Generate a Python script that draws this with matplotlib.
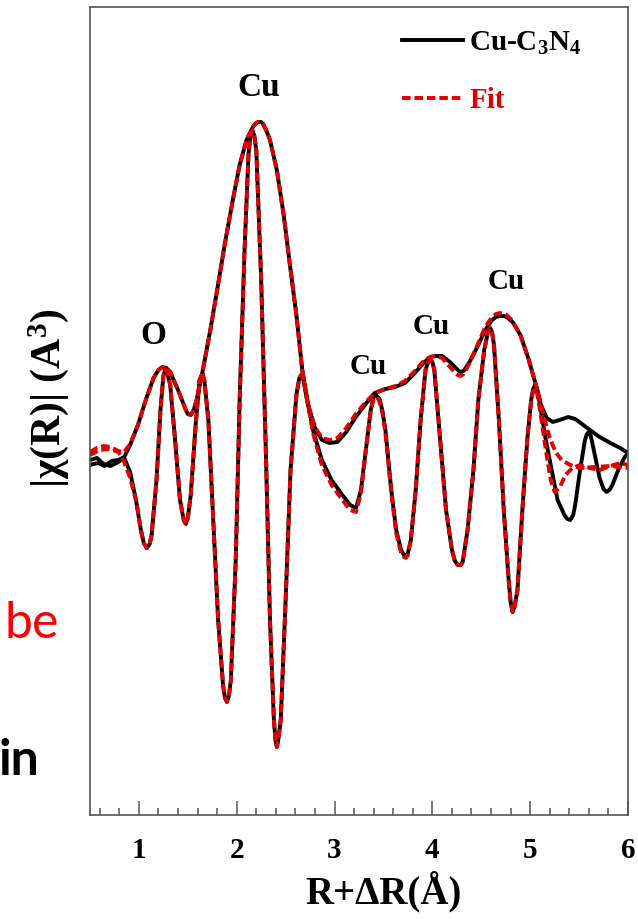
import matplotlib
matplotlib.use('Agg')
import matplotlib.pyplot as plt
from matplotlib.ticker import MultipleLocator

# (R, value) pairs, arbitrary units
mag_pts = [(0.50, -0.10), (0.58, -0.08), (0.65, -0.11), (0.72, -0.06), (0.79, -0.05), (0.85, -0.02),
           (0.91, 0.10), (0.99, 0.30), (1.07, 0.55), (1.15, 0.77), (1.20, 0.85), (1.24, 0.88),
           (1.28, 0.87), (1.32, 0.83), (1.40, 0.65), (1.48, 0.45), (1.50, 0.41), (1.53, 0.40),
           (1.56, 0.45), (1.59, 0.55), (1.65, 0.83), (1.73, 1.25), (1.80, 1.65), (1.88, 2.12),
           (1.96, 2.55), (2.03, 2.90), (2.10, 3.15), (2.17, 3.29), (2.20, 3.32), (2.22, 3.33),
           (2.25, 3.33), (2.27, 3.31), (2.30, 3.25), (2.34, 3.15), (2.41, 2.85), (2.48, 2.40),
           (2.54, 1.93), (2.61, 1.40), (2.67, 0.85), (2.73, 0.50), (2.80, 0.27), (2.87, 0.15),
           (2.95, 0.12), (3.03, 0.13), (3.12, 0.23), (3.21, 0.37), (3.31, 0.50), (3.41, 0.62),
           (3.52, 0.66), (3.62, 0.68), (3.72, 0.72), (3.82, 0.82), (3.92, 0.93), (3.98, 0.98),
           (4.03, 0.99), (4.10, 0.99), (4.18, 0.93), (4.26, 0.85), (4.29, 0.83), (4.32, 0.84),
           (4.38, 0.93), (4.47, 1.10), (4.54, 1.25), (4.61, 1.35), (4.65, 1.38), (4.69, 1.39),
           (4.73, 1.39), (4.76, 1.38), (4.82, 1.33), (4.90, 1.20), (4.98, 0.97), (5.05, 0.73),
           (5.11, 0.50), (5.17, 0.37), (5.23, 0.33), (5.30, 0.35), (5.39, 0.38), (5.46, 0.36),
           (5.53, 0.31), (5.61, 0.25), (5.71, 0.18), (5.82, 0.12), (5.92, 0.07), (6.00, 0.02)]

im_pts = [(0.50, -0.05), (0.57, -0.03), (0.64, -0.09), (0.71, -0.11), (0.79, -0.07), (0.85, -0.03),
          (0.91, -0.17), (0.97, -0.45), (1.02, -0.75), (1.05, -0.88), (1.08, -0.93), (1.11, -0.89),
          (1.13, -0.80), (1.18, -0.25), (1.22, 0.45), (1.25, 0.79), (1.27, 0.86), (1.29, 0.82),
          (1.32, 0.70), (1.37, 0.15), (1.42, -0.45), (1.46, -0.66), (1.48, -0.69), (1.50, -0.63),
          (1.53, -0.40), (1.58, 0.30), (1.62, 0.75), (1.65, 0.82), (1.67, 0.74), (1.71, 0.35),
          (1.76, -0.65), (1.81, -1.65), (1.86, -2.30), (1.88, -2.43), (1.90, -2.47), (1.92, -2.41),
          (1.94, -2.25), (1.99, -1.05), (2.03, 0.55), (2.08, 2.05), (2.12, 3.00), (2.14, 3.19),
          (2.16, 3.25), (2.18, 3.19), (2.20, 3.05), (2.25, 1.75), (2.30, -0.05), (2.34, -1.65),
          (2.38, -2.65), (2.395, -2.84), (2.41, -2.92), (2.425, -2.85), (2.45, -2.65), (2.50, -1.45),
          (2.55, -0.15), (2.61, 0.60), (2.64, 0.77), (2.66, 0.80), (2.68, 0.76), (2.71, 0.60),
          (2.78, 0.25), (2.87, -0.05), (2.97, -0.25), (3.08, -0.40), (3.16, -0.50), (3.22, -0.53),
          (3.27, -0.35), (3.32, 0.05), (3.37, 0.45), (3.40, 0.58), (3.42, 0.60), (3.46, 0.56),
          (3.49, 0.44), (3.52, 0.25), (3.58, -0.35), (3.63, -0.75), (3.68, -0.95), (3.71, -1.00),
          (3.73, -1.01), (3.75, -0.98), (3.78, -0.85), (3.83, -0.35), (3.88, 0.35), (3.93, 0.85),
          (3.96, 0.94), (3.98, 0.95), (4.00, 0.93), (4.02, 0.85), (4.08, 0.15), (4.14, -0.55),
          (4.20, -0.95), (4.23, -1.06), (4.26, -1.10), (4.29, -1.10), (4.31, -1.07), (4.36, -0.75),
          (4.42, -0.15), (4.47, 0.55), (4.53, 1.05), (4.57, 1.24), (4.59, 1.27), (4.61, 1.23),
          (4.63, 1.10), (4.68, 0.35), (4.73, -0.55), (4.78, -1.25), (4.80, -1.47), (4.82, -1.57),
          (4.84, -1.52), (4.87, -1.35), (4.92, -0.55), (4.97, 0.15), (5.01, 0.55), (5.03, 0.66),
          (5.05, 0.70), (5.07, 0.67), (5.10, 0.50), (5.16, 0.15), (5.22, -0.15), (5.28, -0.45),
          (5.35, -0.60), (5.38, -0.64), (5.41, -0.65), (5.44, -0.60), (5.46, -0.50), (5.51, -0.15),
          (5.56, 0.15), (5.58, 0.21), (5.60, 0.23), (5.62, 0.19), (5.65, 0.05), (5.71, -0.23),
          (5.75, -0.34), (5.78, -0.37), (5.81, -0.35), (5.84, -0.30), (5.90, -0.15), (5.96, -0.03),
          (6.00, 0.02)]

fit_mag_pts = [(0.50, 0.03), (0.57, 0.07), (0.64, 0.09), (0.71, 0.08), (0.79, 0.04), (0.85, 0.03),
               (0.91, 0.11), (0.99, 0.30), (1.07, 0.55), (1.15, 0.77), (1.20, 0.85), (1.24, 0.88),
               (1.28, 0.87), (1.32, 0.83), (1.40, 0.65), (1.48, 0.45), (1.50, 0.41), (1.53, 0.40),
               (1.56, 0.45), (1.59, 0.55), (1.65, 0.83), (1.73, 1.25), (1.80, 1.65), (1.88, 2.12),
               (1.96, 2.55), (2.03, 2.90), (2.10, 3.15), (2.17, 3.29), (2.20, 3.32), (2.22, 3.33),
               (2.25, 3.33), (2.27, 3.31), (2.30, 3.25), (2.34, 3.15), (2.41, 2.85), (2.48, 2.40),
               (2.54, 1.93), (2.61, 1.40), (2.67, 0.85), (2.73, 0.50), (2.80, 0.28), (2.87, 0.17),
               (2.95, 0.15), (3.03, 0.17), (3.12, 0.27), (3.21, 0.40), (3.31, 0.52), (3.41, 0.62),
               (3.52, 0.66), (3.62, 0.69), (3.72, 0.74), (3.82, 0.84), (3.92, 0.95), (3.98, 0.98),
               (4.03, 0.99), (4.10, 0.97), (4.18, 0.88), (4.26, 0.80), (4.29, 0.79), (4.32, 0.81),
               (4.38, 0.92), (4.47, 1.12), (4.54, 1.28), (4.61, 1.38), (4.65, 1.41), (4.69, 1.42),
               (4.73, 1.41), (4.76, 1.40), (4.82, 1.34), (4.90, 1.20), (4.98, 0.97), (5.05, 0.73),
               (5.10, 0.55), (5.15, 0.35), (5.20, 0.17), (5.26, 0.03), (5.32, -0.05), (5.41, -0.10),
               (5.51, -0.13), (5.66, -0.12), (5.82, -0.11), (6.00, -0.13)]

fit_im_pts = [(0.50, 0.00), (0.60, 0.05), (0.70, 0.06), (0.79, 0.03), (0.85, -0.07), (0.91, -0.23),
              (0.97, -0.45), (1.02, -0.75), (1.05, -0.88), (1.08, -0.93), (1.11, -0.89),
              (1.13, -0.80), (1.18, -0.25), (1.22, 0.45), (1.25, 0.79), (1.27, 0.86), (1.29, 0.82),
              (1.32, 0.70), (1.37, 0.15), (1.42, -0.45), (1.46, -0.66), (1.48, -0.69), (1.50, -0.63),
              (1.53, -0.40), (1.58, 0.30), (1.62, 0.75), (1.65, 0.82), (1.67, 0.74), (1.71, 0.35),
              (1.76, -0.65), (1.81, -1.65), (1.86, -2.30), (1.88, -2.43), (1.90, -2.47), (1.92, -2.41),
              (1.94, -2.25), (1.99, -1.05), (2.03, 0.55), (2.08, 2.05), (2.12, 3.00), (2.14, 3.19),
              (2.16, 3.25), (2.18, 3.19), (2.20, 3.05), (2.25, 1.75), (2.30, -0.05), (2.34, -1.65),
              (2.38, -2.65), (2.395, -2.84), (2.41, -2.92), (2.425, -2.85), (2.45, -2.65), (2.50, -1.45),
              (2.55, -0.15), (2.61, 0.60), (2.64, 0.77), (2.66, 0.80), (2.68, 0.76), (2.71, 0.60),
              (2.78, 0.22), (2.87, -0.10), (2.97, -0.30), (3.08, -0.45), (3.16, -0.55), (3.22, -0.57),
              (3.27, -0.38), (3.32, 0.05), (3.37, 0.45), (3.40, 0.56), (3.42, 0.58), (3.45, 0.56),
              (3.49, 0.42), (3.52, 0.22), (3.58, -0.38), (3.63, -0.78), (3.68, -0.98), (3.71, -1.02),
              (3.73, -1.03), (3.75, -1.00), (3.78, -0.85), (3.83, -0.35), (3.88, 0.35), (3.93, 0.85),
              (3.96, 0.94), (3.98, 0.95), (4.00, 0.93), (4.02, 0.85), (4.08, 0.15), (4.14, -0.55),
              (4.20, -0.95), (4.23, -1.06), (4.26, -1.10), (4.29, -1.10), (4.31, -1.07), (4.36, -0.75),
              (4.42, -0.15), (4.47, 0.55), (4.53, 1.05), (4.57, 1.24), (4.59, 1.27), (4.61, 1.23),
              (4.63, 1.10), (4.68, 0.35), (4.73, -0.55), (4.78, -1.25), (4.80, -1.47), (4.82, -1.57),
              (4.84, -1.52), (4.87, -1.35), (4.92, -0.55), (4.97, 0.15), (5.01, 0.55), (5.03, 0.64),
              (5.05, 0.67), (5.07, 0.62), (5.10, 0.45), (5.16, 0.05), (5.21, -0.25), (5.25, -0.37),
              (5.30, -0.33), (5.36, -0.20), (5.43, -0.13), (5.51, -0.10), (5.61, -0.13), (5.71, -0.15),
              (5.82, -0.11), (5.92, -0.08), (6.00, -0.10)]

# shell labels
shell_text = ['O', 'Cu', 'Cu', 'Cu', 'Cu']
shell_r = [1.15, 2.22, 3.34, 3.99, 4.76]
shell_y = [1.19, 3.67, 0.88, 1.28, 1.73]
shell_size = [24, 24, 21, 21, 21]

SERIF = 'Liberation Serif'
RED = '#e00000'

plt.rcParams['font.family'] = SERIF
plt.rcParams['font.weight'] = 'bold'
plt.rcParams['mathtext.fontset'] = 'custom'
plt.rcParams['mathtext.rm'] = SERIF + ':bold'
plt.rcParams['mathtext.it'] = SERIF + ':bold'
plt.rcParams['mathtext.bf'] = SERIF + ':bold'

fig = plt.figure(figsize=(6.38, 9.19), dpi=100)
ax = fig.add_axes([90 / 638, 1 - 815 / 919, 538 / 638, 808 / 919])

r, v = zip(*mag_pts)
ax.plot(r, v, color='black', lw=2.8, label='Cu-C$_3$N$_4$')
r, v = zip(*im_pts)
ax.plot(r, v, color='black', lw=2.8)
r, v = zip(*fit_mag_pts)
ax.plot(r, v, color=RED, lw=2.8, ls='--', dashes=(2.2, 1.0), label='Fit')
r, v = zip(*fit_im_pts)
ax.plot(r, v, color=RED, lw=2.8, ls='--', dashes=(2.2, 1.0))

for t, x, y, s in zip(shell_text, shell_r, shell_y, shell_size):
    ax.text(x, y, t, fontsize=s, fontweight='bold', ha='center', va='center')

ax.set_xlim(0.5, 6.0)
ax.set_ylim(-3.60, 4.48)
ax.xaxis.set_major_locator(MultipleLocator(1))
ax.xaxis.set_minor_locator(MultipleLocator(0.2))
ax.set_yticks([])
ax.tick_params(axis='x', which='major', direction='in', length=10, width=1.1,
               color='#555555', labelsize=21, pad=16)
ax.tick_params(axis='x', which='minor', direction='in', length=5, width=1.1, color='#555555')
for sp in ax.spines.values():
    sp.set_color('#555555')
    sp.set_linewidth(1.2)

ax.set_xlabel('R+ΔR(Å)', fontsize=28, fontweight='bold')
ax.xaxis.set_label_coords(0.545, -0.069)
ax.set_ylabel('|χ(R)| (A$^3$)', fontsize=30, fontweight='bold')
ax.yaxis.set_label_coords(-0.035, 0.516)

leg = ax.legend(loc='upper left', bbox_to_anchor=(0.58, 0.972), frameon=False,
                fontsize=21, handlelength=2.1, handletextpad=0.2, labelspacing=1.05,
                borderpad=0, borderaxespad=0)
leg.get_texts()[1].set_color(RED)

# text fragments from the slide behind the figure
fig.text(5 / 638, 1 - 638 / 919, 'be', color='red', fontsize=36, family='Lato', fontweight='normal',
         va='baseline', ha='left')
fig.text(-1 / 638, 1 - 775 / 919, 'in', color='black', fontsize=36, family='Lato', fontweight='bold',
         va='baseline', ha='left')

fig.savefig('out.png', dpi=100)
